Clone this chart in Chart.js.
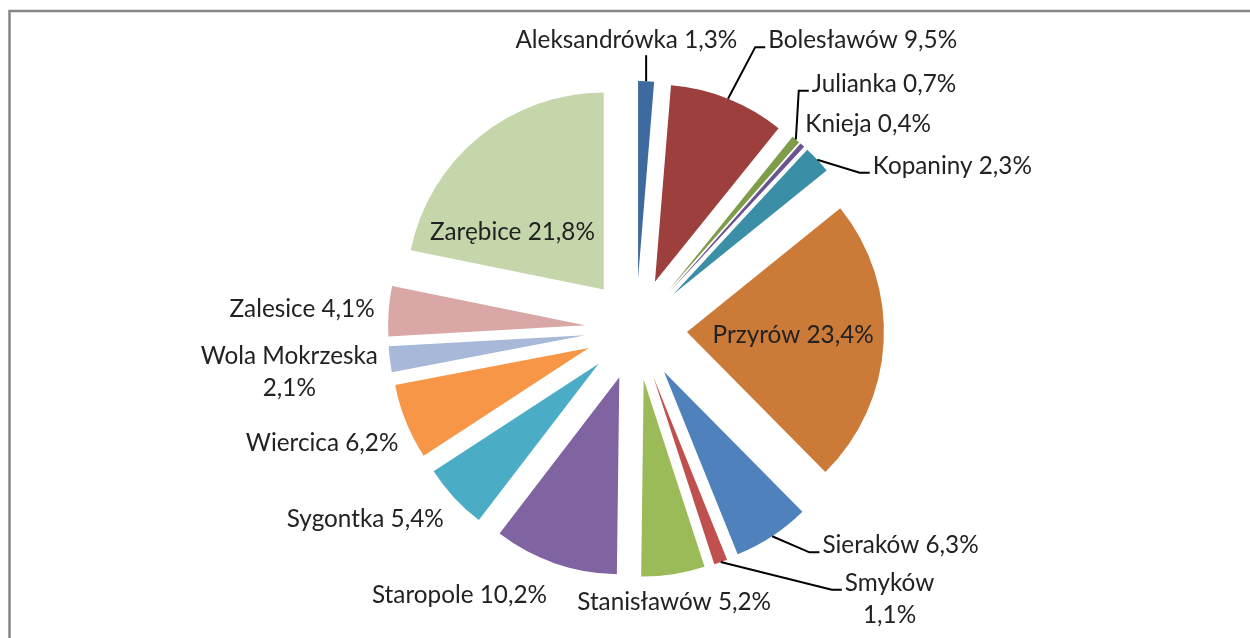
<!DOCTYPE html>
<html>
<head>
<meta charset="utf-8">
<script src="https://cdn.jsdelivr.net/npm/chart.js@4.4.1/dist/chart.umd.min.js"></script>
<style>
  html, body { margin: 0; padding: 0; background: #fff; }
  canvas { display: block; }
</style>
</head>
<body>
<canvas id="udzialChart" width="1250" height="638"></canvas>
<script>
const villages = ['Aleksandrówka', 'Bolesławów', 'Julianka', 'Knieja', 'Kopaniny', 'Przyrów', 'Sieraków',
    'Smyków', 'Stanisławów', 'Staropole', 'Sygontka', 'Wiercica', 'Wola Mokrzeska', 'Zalesice', 'Zarębice'];
const shares = [1.3, 9.5, 0.7, 0.4, 2.3, 23.4, 6.3, 1.1, 5.2, 10.2, 5.4, 6.2, 2.1, 4.1, 21.8];
const sliceColors = ['#3E6B9F', '#9C3F3D', '#7E9D48', '#6A5590', '#3A8FA6', '#CB7A37', '#4F81BD',
    '#C0504D', '#9BBB59', '#8064A2', '#4BACC6', '#F79646', '#A7B8D8', '#D9A7A6', '#C5D6AA'];

// where each label goes: inside, outside, or outside with a leader line, plus a small nudge
const labelLayout = [
    { mode: 'leader', dx: -20, dy: -23 },
    { mode: 'leader', dx: 38, dy: -41 },
    { mode: 'leader', dx: 12, dy: -39 },
    { mode: 'out', dx: -1, dy: -4 },
    { mode: 'leader', dx: 51, dy: 22 },
    { mode: 'in', dx: 0, dy: -3 },
    { mode: 'leader', dx: 47, dy: -8 },
    { mode: 'leader', dx: 122, dy: 3, wrap: true },
    { mode: 'out', dx: 0, dy: 10 },
    { mode: 'out', dx: -6, dy: 14 },
    { mode: 'out', dx: -6, dy: 5 },
    { mode: 'out', dx: -2, dy: 7 },
    { mode: 'out', dx: -6, dy: 12, wrap: true },
    { mode: 'out', dx: -8, dy: -2 },
    { mode: 'in', dx: -24, dy: 25 }
];

const EXPLODE = 51;
const RADIUS = 197;
const LABEL_GAP = 6;
const BOX_H = 24;
const LINE_STEP = 32;
const FONT_FAMILY = 'Lato, "Open Sans", sans-serif';
const TEXT_COLOR = '#222222';

// size the font so the longest label is about as wide as in the original
function fitFontSize() {
    const c = document.createElement('canvas').getContext('2d');
    c.font = '100px ' + FONT_FAMILY;
    return 100 * 222 / c.measureText('Aleksandrówka 1,3%').width;
}
const fontSize = fitFontSize();

const pct = v => v.toFixed(1).replace('.', ',') + '%';

// slices pushed out from the centre, like an exploded Excel pie
class ExplodedArc extends Chart.ArcElement {
    static id = 'explodedArc';
    draw(ctx) {
        const mid = (this.startAngle + this.endAngle) / 2;
        ctx.save();
        ctx.translate(Math.cos(mid) * EXPLODE, Math.sin(mid) * EXPLODE);
        super.draw(ctx);
        ctx.restore();
    }
}
class ExplodedPie extends Chart.PieController {
    static id = 'explodedPie';
    static defaults = { dataElementType: 'explodedArc' };
}
Chart.register(ExplodedArc, ExplodedPie);

const framePlugin = {
    id: 'frame',
    beforeDraw(chart) {
        const ctx = chart.ctx;
        ctx.save();
        ctx.fillStyle = '#fff';
        ctx.fillRect(0, 0, chart.width, chart.height);
        ctx.strokeStyle = '#868686';
        ctx.lineWidth = 2.5;
        ctx.strokeRect(9.5, 11, chart.width + 50, chart.height + 50);
        ctx.restore();
    }
};

const labelPlugin = {
    id: 'sliceLabels',
    afterDatasetsDraw(chart) {
        const ctx = chart.ctx;
        const arcs = chart.getDatasetMeta(0).data;
        ctx.save();
        ctx.font = fontSize.toFixed(2) + 'px ' + FONT_FAMILY;
        ctx.textAlign = 'center';
        ctx.textBaseline = 'middle';
        ctx.strokeStyle = '#000';
        ctx.lineWidth = 2;
        arcs.forEach((arc, i) => {
            const lay = labelLayout[i];
            const mid = (arc.startAngle + arc.endAngle) / 2;
            const ux = Math.cos(mid), uy = Math.sin(mid);
            const lines = lay.wrap ? [villages[i], pct(shares[i])] : [villages[i] + ' ' + pct(shares[i])];
            const w = Math.max(...lines.map(l => ctx.measureText(l).width));
            const h = BOX_H + LINE_STEP * (lines.length - 1);
            let cx, cy;
            if (lay.mode === 'in') {
                const r = EXPLODE + arc.outerRadius * 0.54;
                cx = arc.x + ux * r;
                cy = arc.y + uy * r;
            } else {
                const r = arc.outerRadius + EXPLODE + LABEL_GAP;
                const ax = arc.x + ux * r, ay = arc.y + uy * r;
                cx = ux > 0.3 ? ax + w / 2 : ux < -0.3 ? ax - w / 2 : ax;
                cy = uy < -0.3 ? ay - h / 2 : uy > 0.3 ? ay + h / 2 : ay;
            }
            cx += lay.dx;
            cy += lay.dy;

            if (lay.mode === 'leader') {
                const rEdge = arc.outerRadius + EXPLODE;
                const mx = arc.x + ux * rEdge, my = arc.y + uy * rEdge;
                ctx.beginPath();
                ctx.moveTo(mx, my);
                if (cy + h / 2 < my && Math.abs(cx - mx) < w / 2) {
                    ctx.lineTo(mx, cy + h / 2 + 3);
                } else {
                    const firstY = cy - h / 2 + BOX_H / 2;
                    const ex = cx - w / 2 - 3, ey = firstY + 7;
                    ctx.lineTo(ex - 10, ey);
                    ctx.lineTo(ex, ey);
                }
                ctx.stroke();
            }

            ctx.fillStyle = TEXT_COLOR;
            lines.forEach((l, k) => {
                ctx.fillText(l, cx, cy - h / 2 + BOX_H / 2 + LINE_STEP * k);
            });
        });
        ctx.restore();
    }
};

new Chart(document.getElementById('udzialChart').getContext('2d'), {
    type: 'explodedPie',
    data: {
        labels: villages,
        datasets: [{
            data: shares,
            backgroundColor: sliceColors,
            borderWidth: 0
        }]
    },
    options: {
        responsive: false,
        animation: false,
        events: [],
        radius: RADIUS,
        layout: { padding: { left: 22, top: 20, right: 0, bottom: 0 } },
        plugins: { legend: { display: false }, tooltip: { enabled: false } }
    },
    plugins: [framePlugin, labelPlugin]
});
</script>
</body>
</html>
